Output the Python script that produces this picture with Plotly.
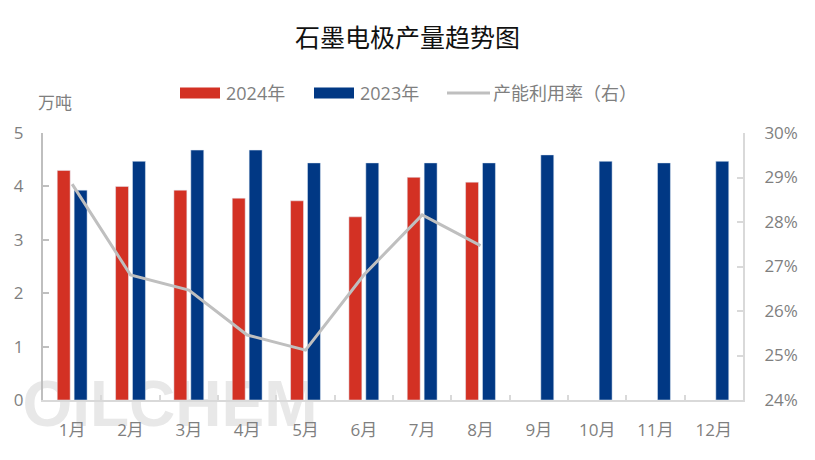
import plotly.graph_objects as go

months = ["1月", "2月", "3月", "4月", "5月", "6月", "7月", "8月", "9月", "10月", "11月", "12月"]
prod_2024 = [4.3, 4.0, 3.93, 3.78, 3.73, 3.43, 4.17, 4.08, None, None, None, None]
prod_2023 = [3.93, 4.47, 4.68, 4.68, 4.44, 4.44, 4.44, 4.44, 4.59, 4.47, 4.44, 4.47]
util_rate = [28.85, 26.81, 26.47, 25.46, 25.12, 26.81, 28.16, 27.47, None, None, None, None]

names = ["2024年", "2023年", "产能利用率（右）"]
colors = ["#D33124", "#013884", "#BFBFBF"]

W, H = 815, 460
L, R, T, B = 43, 743, 133, 400

def px(x):
    return (x - L) / (R - L)

def py(y):
    return (B - y) / (B - T)

FONT = "Open Sans, Noto Sans CJK SC"
CJK = "Noto Sans CJK SC"

fig = go.Figure()
fig.add_trace(go.Bar(x=months, y=prod_2024, name=names[0], marker_color=colors[0], showlegend=False))
fig.add_trace(go.Bar(x=months, y=prod_2023, name=names[1], marker_color=colors[1], showlegend=False))
fig.add_trace(go.Scatter(x=months, y=util_rate, name=names[2], mode="lines",
                         line=dict(color=colors[2], width=3), yaxis="y2", showlegend=False))

shapes = []
annotations = []

# watermark
shapes.append(dict(type="rect", xref="paper", yref="paper", layer="below",
                   x0=px(28), x1=px(312), y0=py(424), y1=py(372),
                   line=dict(width=0), fillcolor="rgba(0,0,0,0)",
                   label=dict(text="OILCHEM", textposition="middle center",
                              font=dict(family="Liberation Sans", size=64, color="#E8E8E8", weight="bold"))))

# custom legend
leg = [
    (180, 220, 224, names[0], colors[0], "bar"),
    (314, 354, 358, names[1], colors[1], "bar"),
    (447, 490, 491, names[2], colors[2], "line"),
]
for x0, x1, tx, txt, c, kind in leg:
    if kind == "bar":
        shapes.append(dict(type="rect", xref="paper", yref="paper",
                           x0=px(x0), x1=px(x1), y0=py(98.5), y1=py(87.5),
                           fillcolor=c, line=dict(width=0)))
    else:
        shapes.append(dict(type="line", xref="paper", yref="paper",
                           x0=px(x0), x1=px(x1), y0=py(93), y1=py(93),
                           line=dict(color=c, width=3)))
    annotations.append(dict(xref="paper", yref="paper", x=px(tx), y=py(93),
                            xanchor="left", yanchor="middle", text=txt, showarrow=False,
                            font=dict(family=FONT, size=18, color="#7F7F7F")))

annotations.append(dict(xref="paper", yref="paper", x=px(36), y=py(102),
                        xanchor="left", yanchor="middle", text="万吨", showarrow=False,
                        font=dict(family=CJK, size=17, color="#7F7F7F")))

fig.update_layout(
    width=W, height=H, autosize=False,
    margin=dict(l=L, r=W - R, t=T, b=H - B, pad=0, autoexpand=False),
    paper_bgcolor="white", plot_bgcolor="rgba(0,0,0,0)",
    title=dict(text="石墨电极产量趋势图", x=0.5, xref="container", xanchor="center",
               y=1 - 38 / H, yref="container", yanchor="middle",
               font=dict(family=CJK, size=25, color="#111111")),
    barmode="group", bargap=0.42, bargroupgap=0.235,
    showlegend=False,
    font=dict(family=FONT, color="#7F7F7F"),
    xaxis=dict(type="category", showline=True, linecolor="#D9D9D9", linewidth=2,
               ticks="inside", tickson="boundaries", ticklen=5, tickcolor="#D9D9D9", tickwidth=2,
               showgrid=False, tickfont=dict(family=FONT, size=17, color="#7F7F7F"),
               ticklabelstandoff=14, automargin=False),
    yaxis=dict(range=[0, 5], dtick=1, showline=True, linecolor="#BFBFBF", linewidth=2,
               ticks="inside", ticklen=6, tickcolor="#BFBFBF", tickwidth=2,
               showgrid=False, zeroline=False, automargin=False,
               tickfont=dict(family=FONT, size=17, color="#7F7F7F"), ticklabelstandoff=14),
    yaxis2=dict(range=[24, 30], dtick=1, overlaying="y", side="right", showline=True,
                linecolor="#D9D9D9", linewidth=2, ticks="inside", ticklen=6,
                tickcolor="#D9D9D9", tickwidth=2, showgrid=False, zeroline=False,
                automargin=False,
                ticksuffix="%", tickfont=dict(family=FONT, size=17, color="#7F7F7F"),
                ticklabelstandoff=16),
    shapes=shapes, annotations=annotations,
)

fig.write_html("out.html", config={"displayModeBar": False},
               post_script="document.body.style.margin='0';document.body.style.overflow='hidden';")
